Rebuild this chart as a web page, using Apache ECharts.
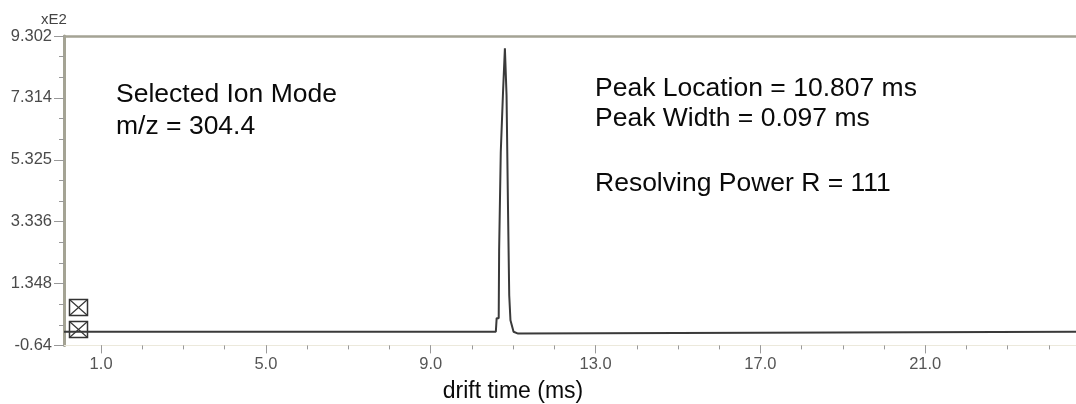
<!DOCTYPE html>
<html>
<head>
<meta charset="utf-8">
<script src="https://cdn.jsdelivr.net/npm/echarts@6/dist/echarts.min.js"></script>
<style>
  html, body { margin: 0; padding: 0; background: #ffffff; }
  #chart { width: 1076px; height: 404px; }
</style>
</head>
<body>
<div id="chart"></div>
<script>
// ---- data (trace, stepped acquisition) ----
const driftTime = [0.1, 10.58, 10.60, 10.65, 10.66, 10.69, 10.70, 10.745, 10.755, 10.785, 10.80, 10.83, 10.84, 10.87, 10.875, 10.895, 10.905, 10.925, 10.935, 10.96, 11.01, 11.04, 11.12, 11.15, 24.66];
const intensity = [-0.2, -0.2, 0.235, 0.235, 2.42, 2.42, 5.58, 5.58, 7.51, 7.51, 8.91, 8.91, 7.40, 7.40, 3.81, 3.81, 0.97, 0.97, 0.17, 0.17, -0.2, -0.26, -0.26, -0.2, -0.2];

const yMin = -0.64, yMax = 9.302, yStep = 1.9884;
const yTickLabels = ['-0.64', '1.348', '3.336', '5.325', '7.314', '9.302'];

const xMin = 0.1, xMax = 24.66;
const xTickValues = [1, 5, 9, 13, 17, 21];
const xTickLabels = ['1.0', '5.0', '9.0', '13.0', '17.0', '21.0'];
const xMinorTickValues = [1, 2, 3, 4, 5, 6, 7, 8, 9, 10, 11, 12, 13, 14, 15, 16, 17, 18, 19, 20, 21, 22, 23, 24];

const yUnitLabel = 'xE2';
const xAxisTitle = 'drift time (ms)';
const leftNote = ['Selected Ion Mode', 'm/z = 304.4'];
const rightNote = ['Peak Location = 10.807 ms', 'Peak Width = 0.097 ms', 'Resolving Power R = 111'];

const FONT = '"Liberation Sans", Arial, sans-serif';
const seriesData = driftTime.map((x, i) => [x, intensity[i]]);

const chart = echarts.init(document.getElementById('chart'), null, { renderer: 'canvas' });

function noteText(text, x, y, size, align) {
  return {
    type: 'text', x: x, y: y, silent: true,
    style: { text: text, font: size + 'px ' + FONT, fill: '#0a0a0a', align: align || 'left', verticalAlign: 'middle' }
  };
}
function crossBox(left, top) {
  const w = 18, h = 16;
  return {
    type: 'group', x: left, y: top, silent: true,
    children: [
      { type: 'rect', shape: { x: 0, y: 0, width: w, height: h }, style: { fill: 'none', stroke: '#333', lineWidth: 1.5 } },
      { type: 'line', shape: { x1: 0, y1: 0, x2: w, y2: h }, style: { stroke: '#333', lineWidth: 1.2 } },
      { type: 'line', shape: { x1: w, y1: 0, x2: 0, y2: h }, style: { stroke: '#333', lineWidth: 1.2 } }
    ]
  };
}

chart.setOption({
  animation: false,
  backgroundColor: '#ffffff',
  grid: { left: 64, right: 0, top: 36, bottom: 58.6, containLabel: false },
  xAxis: [
    {
      type: 'value', position: 'bottom', min: xMin, max: xMax,
      axisLine: { show: true, onZero: false, lineStyle: { color: '#ece9dc', width: 1 } },
      axisTick: { show: true, customValues: xMinorTickValues, length: 4, lineStyle: { color: '#999', width: 1 } },
      axisLabel: {
        show: true, customValues: xTickValues, margin: 11,
        fontFamily: FONT, fontSize: 16.5, color: '#555',
        formatter: v => { const i = xTickValues.indexOf(v); return i >= 0 ? xTickLabels[i] : ''; }
      },
      splitLine: { show: false }
    },
    {
      type: 'value', position: 'bottom', min: xMin, max: xMax,
      axisLine: { show: false, onZero: false },
      axisTick: { show: true, customValues: xTickValues, length: 8, lineStyle: { color: '#999', width: 1 } },
      axisLabel: { show: false },
      splitLine: { show: false }
    },
    {
      type: 'value', position: 'top', min: xMin, max: xMax,
      axisLine: { show: true, onZero: false, lineStyle: { color: '#a4a394', width: 2.5 } },
      axisTick: { show: false }, axisLabel: { show: false }, splitLine: { show: false }
    }
  ],
  yAxis: {
    type: 'value', min: yMin, max: yMax, interval: yStep,
    axisLine: { show: true, onZero: false, lineStyle: { color: '#a4a394', width: 3 } },
    axisTick: { show: true, length: 10, lineStyle: { color: '#999', width: 1 } },
    minorTick: { show: true, splitNumber: 3, length: 5, lineStyle: { color: '#999', width: 1 } },
    axisLabel: {
      margin: 12, fontFamily: FONT, fontSize: 16.5, color: '#4a4a4a',
      formatter: v => yTickLabels[Math.round((v - yMin) / yStep)] || ''
    },
    splitLine: { show: false }
  },
  series: [{
    type: 'line', xAxisIndex: 0, data: seriesData,
    showSymbol: false, symbol: 'none', clip: false,
    lineStyle: { color: '#3a3a3a', width: 2 }
  }],
  graphic: [
    { type: 'text', x: 54, y: 20, silent: true,
      style: { text: yUnitLabel, font: '15px ' + FONT, fill: '#444', align: 'center', verticalAlign: 'middle' } },
    noteText(leftNote[0], 116, 95, 26.5),
    noteText(leftNote[1], 116, 126.5, 26.5),
    noteText(rightNote[0], 595, 88.5, 26.5),
    noteText(rightNote[1], 595, 118.5, 26.5),
    noteText(rightNote[2], 595, 183.5, 26.5),
    noteText(xAxisTitle, 513, 392, 23, 'center'),
    crossBox(69.5, 299.5),
    crossBox(69.5, 321.5)
  ]
});
</script>
</body>
</html>
